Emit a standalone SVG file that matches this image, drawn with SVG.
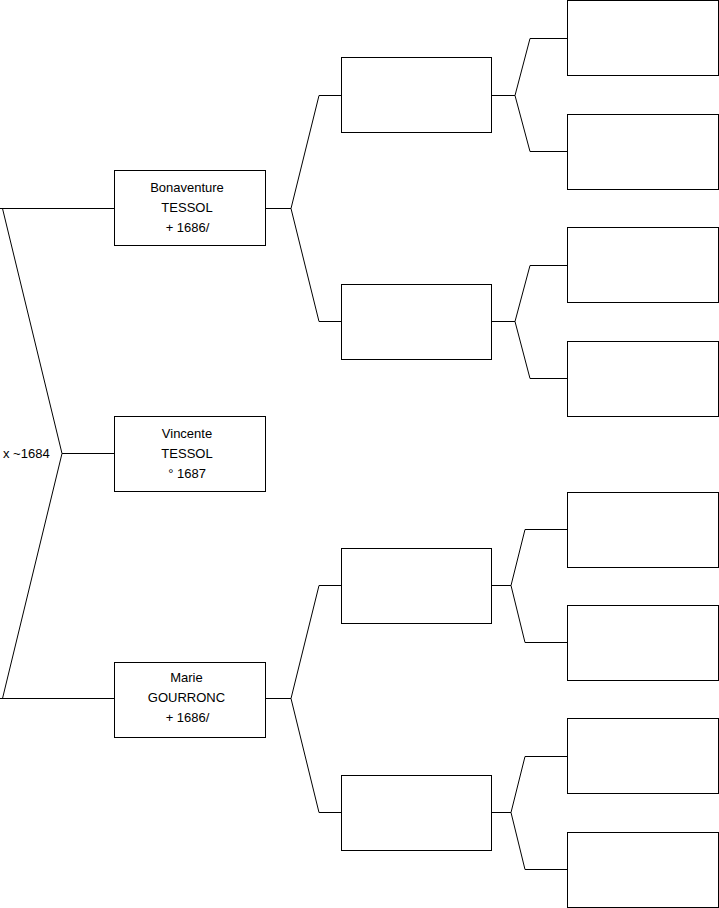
<svg xmlns="http://www.w3.org/2000/svg" width="719" height="908" viewBox="0 0 719 908">
<style>
.box{fill:#fff;stroke:#000;stroke-width:1}
.ln{fill:none;stroke:#000;stroke-width:1}
text{font-family:"Liberation Sans",Arial,sans-serif;font-size:13px;fill:#000}
.c{text-anchor:middle}
</style>
<rect width="719" height="908" fill="#fff"/>
<g id="connectors">
<polyline class="ln" points="0,208.5 114,208.5"/>
<polyline class="ln" points="2.5,208.5 62,453.5 2.5,698.5"/>
<polyline class="ln" points="0,698.5 114,698.5"/>
<polyline class="ln" points="62,453.5 114,453.5"/>
<polyline class="ln" points="265,208.5 291,208.5"/>
<polyline class="ln" points="341,95.5 319,95.5 291,208.5 319,321.5 341,321.5"/>
<polyline class="ln" points="265,698.5 291,698.5"/>
<polyline class="ln" points="341,585.5 319,585.5 291,698.5 319,812.5 341,812.5"/>
<polyline class="ln" points="492,95.5 515,95.5"/>
<polyline class="ln" points="567,38.5 530,38.5 515,95.5 530,151.5 567,151.5"/>
<polyline class="ln" points="492,321.5 515,321.5"/>
<polyline class="ln" points="567,265.5 530,265.5 515,321.5 530,378.5 567,378.5"/>
<polyline class="ln" points="492,585.5 511,585.5"/>
<polyline class="ln" points="567,529.5 525,529.5 511,585.5 525,642.5 567,642.5"/>
<polyline class="ln" points="492,812.5 511,812.5"/>
<polyline class="ln" points="567,756.5 525,756.5 511,812.5 525,869.5 567,869.5"/>
</g>
<g id="label-marriage"><text x="3" y="457.5">x ~1684</text></g>
<g id="n-bonaventure"><rect class="box" x="114.5" y="170.5" width="151" height="75"/>
<text class="c" x="187" y="191.5">Bonaventure</text><text class="c" x="187" y="211.5">TESSOL</text><text class="c" x="187.5" y="231.5">+ 1686/</text></g>
<g id="n-vincente"><rect class="box" x="114.5" y="416.5" width="151" height="75"/>
<text class="c" x="187" y="437.5">Vincente</text><text class="c" x="187" y="457.5">TESSOL</text><text class="c" x="187" y="477.5">° 1687</text></g>
<g id="n-marie"><rect class="box" x="114.5" y="662.5" width="151" height="75"/>
<text class="c" x="186.5" y="681.5">Marie</text><text class="c" x="186.5" y="701.5">GOURRONC</text><text class="c" x="187.5" y="721.5">+ 1686/</text></g>
<g id="n-g2a"><rect class="box" x="341.5" y="57.5" width="150" height="75"/></g>
<g id="n-g2b"><rect class="box" x="341.5" y="284.5" width="150" height="75"/></g>
<g id="n-g2c"><rect class="box" x="341.5" y="548.5" width="150" height="75"/></g>
<g id="n-g2d"><rect class="box" x="341.5" y="775.5" width="150" height="75"/></g>
<g id="n-g3a"><rect class="box" x="567.5" y="0.5" width="151" height="75"/></g>
<g id="n-g3b"><rect class="box" x="567.5" y="114.5" width="151" height="75"/></g>
<g id="n-g3c"><rect class="box" x="567.5" y="227.5" width="151" height="75"/></g>
<g id="n-g3d"><rect class="box" x="567.5" y="341.5" width="151" height="75"/></g>
<g id="n-g3e"><rect class="box" x="567.5" y="492.5" width="151" height="75"/></g>
<g id="n-g3f"><rect class="box" x="567.5" y="605.5" width="151" height="75"/></g>
<g id="n-g3g"><rect class="box" x="567.5" y="718.5" width="151" height="75"/></g>
<g id="n-g3h"><rect class="box" x="567.5" y="832.5" width="151" height="75"/></g>
</svg>
